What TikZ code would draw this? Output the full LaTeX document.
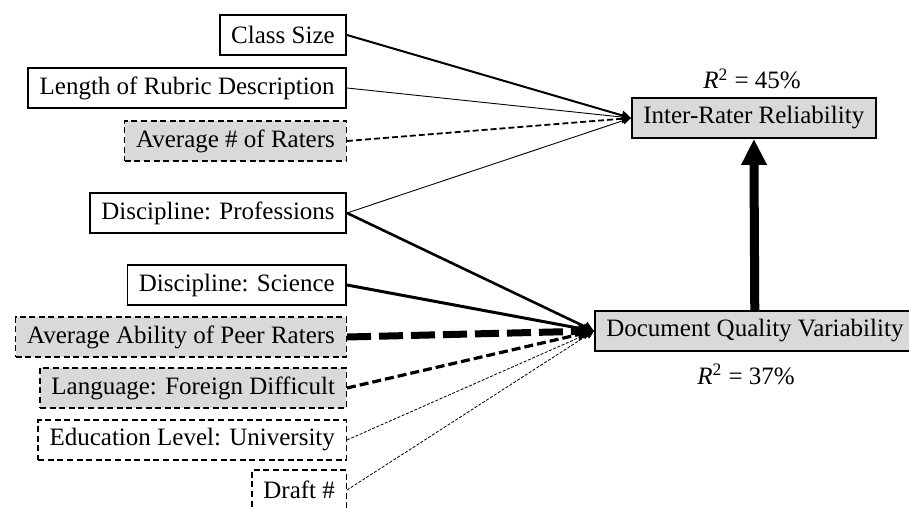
\documentclass[tikz,border=0pt]{standalone}
\usepackage{fontspec}
\setmainfont{Liberation Serif}
\usetikzlibrary{arrows.meta}

\begin{document}
\begin{tikzpicture}[x=0.5pt,y=-0.5pt]
\tikzset{VarBox/.style = {draw, line width=0.9pt, inner xsep=5.7pt, inner ysep=0pt, minimum height=20pt, font=\fontsize{12.5}{14}\selectfont, anchor=east},
  Sig/.style = {fill=gray!30},
  NotSig/.style = {line width=0.7pt, dash pattern=on 3pt off 1.8pt},
  Path/.style = {-{Triangle[length=3.5pt 1.2, width=3pt 1.6]}}}
\useasboundingbox (0,0) rectangle (909,508);
% predictors
\node[VarBox] (size) at (347,35) {Class Size};
\node[VarBox] (rubric) at (347,88) {Length of Rubric Description};
\node[VarBox, NotSig, Sig] (raters) at (347,141) {Average \# of Raters};
\node[VarBox] (prof) at (347,213) {Discipline: Professions};
\node[VarBox] (sci) at (347,285) {Discipline: Science};
\node[VarBox, NotSig, Sig] (ability) at (347,337) {Average Ability of Peer Raters};
\node[VarBox, NotSig, Sig] (lang) at (347,388) {Language: Foreign Difficult};
\node[VarBox, NotSig] (edu) at (347,440) {Education Level: University};
\node[VarBox, NotSig] (draft) at (347,490) {Draft \#};
% outcomes
\node[VarBox, Sig, anchor=west] (irr) at (631,118) {Inter-Rater Reliability};
\node[VarBox, Sig, anchor=west] (dqv) at (594,331) {Document Quality Variability};
\node[anchor=base, font=\fontsize{12.5}{14}\selectfont] (r45) at (752,89) {\textit{R}\textsuperscript{2} = 45\%};
\node[anchor=base, font=\fontsize{12.5}{14}\selectfont] (r37) at (746,384) {\textit{R}\textsuperscript{2} = 37\%};
% paths
\draw[Path, line width=1pt] (size.east) -- (irr.west);
\draw[Path, line width=0.45pt] (rubric.east) -- (irr.west);
\draw[Path, line width=0.9pt, dash pattern=on 3pt off 1.5pt] (raters.east) -- (irr.west);
\draw[Path, line width=0.45pt] (prof.east) -- (irr.west);
\draw[Path, line width=1.3pt] (prof.east) -- (dqv.west);
\draw[Path, line width=1.5pt] (sci.east) -- (dqv.west);
\draw[Path, line width=3.5pt, dash pattern=on 12pt off 4pt] (ability.east) -- (dqv.west);
\draw[Path, line width=1.6pt, dash pattern=on 4.5pt off 2pt] (lang.east) -- (dqv.west);
\draw[Path, line width=0.4pt, dash pattern=on 1.5pt off 0.8pt] (edu.east) -- (dqv.west);
\draw[Path, line width=0.4pt, dash pattern=on 1.5pt off 0.8pt] (draft.east) -- (dqv.west);
\draw[line width=4.5pt, -{Triangle[length=13pt, width=12pt]}] (dqv) -- (irr);
\end{tikzpicture}
\end{document}
